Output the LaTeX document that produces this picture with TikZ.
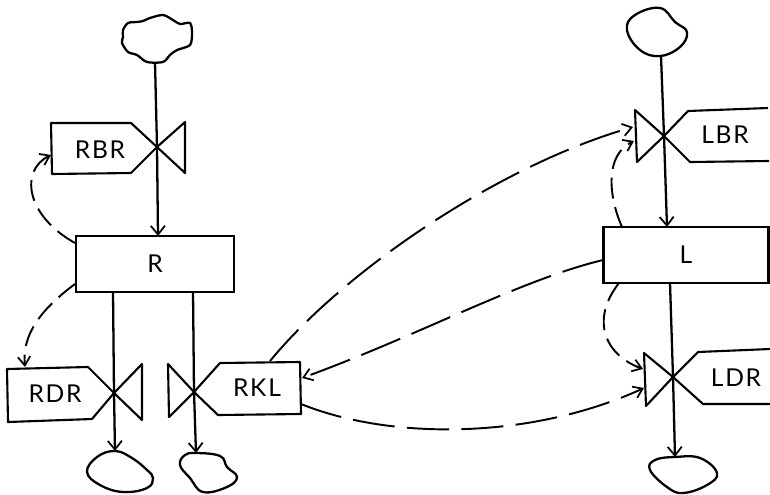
\documentclass[tikz,border=0pt]{standalone}
\usepackage{fontspec}
\newfontfamily\tagfont[LetterSpace=7]{Lato}
\usepackage{tikz}
\usetikzlibrary{arrows.meta}
\tikzset{
    mystock/.style={draw=black,line width=1.3pt,inner sep=0pt},
    mytag/.style={draw=black,line width=1.2pt,line join=round},
    myvalve/.style={draw=black,line width=1.2pt,line join=round},
    mycloud/.style={draw=black,line width=1.3pt},
    myflow/.style={line width=1.3pt,draw=black,-{Straight Barb[length=5pt,width=8pt,line width=1pt]}},
    mylink/.style={line width=1.1pt,draw=black,dash pattern=on 24pt off 7pt,-{Straight Barb[length=5pt,width=7pt,line width=1pt]}},
    myshortlink/.style={mylink,dash pattern=on 12pt off 5pt},
    mylabel/.style={font=\fontsize{14}{16}\tagfont,inner sep=0pt},
}

\begin{document}
\begin{tikzpicture}[x=0.02cm,y=-0.02cm]
  \useasboundingbox (0,0) rectangle (770,494);

  % stocks
  \node[mystock,mylabel,minimum width=3.16cm,minimum height=1.12cm] (R) at (155,264) {R};
  \node[mystock,mylabel,minimum width=3.3cm,minimum height=1.12cm] (L) at (686,255) {L};

  % clouds
  \draw[mycloud] plot[smooth cycle,tension=0.5] coordinates {(123,30) (128,23) (137,22) (143,21) (150,18) (163,15) (173,20) (180,24) (190,23) (192,33) (190,45) (177,50) (170,55) (163,62) (147,62) (137,55) (128,52) (122,43) (123,37)};
  \draw[mycloud] plot[smooth cycle,tension=0.7] coordinates {(660,56) (640,50) (627,30) (635,15) (660,8) (675,22) (687,32) (680,47)};
  \draw[mycloud] plot[smooth cycle,tension=0.7] coordinates {(115,451) (132,458) (147,470) (153,478) (147,488) (123,492) (100,485) (87,472) (97,457)};
  \draw[mycloud] plot[smooth cycle,tension=0.7] coordinates {(196,453) (220,456) (227,467) (237,477) (227,487) (203,492) (190,478) (180,465) (185,455)};
  \draw[mycloud] plot[smooth cycle,tension=0.7] coordinates {(675,457) (700,458) (717,473) (707,485) (683,493) (667,487) (650,470) (655,460)};

  \coordinate (Vrbr) at (157,147);
  \coordinate (Vrdr) at (114,393);
  \coordinate (Vrkl) at (194,392);
  \coordinate (Vlbr) at (664,136);
  \coordinate (Vldr) at (673,377);

  % tags
  \draw[mytag] (51,123)--(131,123)--(Vrbr)--(131,173)--(52,174)--cycle;
  \draw[mytag] (7,369)--(88,367)--(Vrdr)--(92,419)--(8,422)--cycle;
  \draw[mytag] (300,362)--(220,363)--(Vrkl)--(218,415)--(301,414)--cycle;
  \draw[mytag] (768,108)--(688,111)--(Vlbr)--(690,162)--(769,161);
  \draw[mytag] (770,349)--(698,352)--(Vldr)--(703,404)--(770,404);

  % valves
  \draw[myvalve] (Vrbr)--(185,122)--(185,173)--cycle;
  \draw[myvalve] (Vrdr)--(142,364)--(142,420)--cycle;
  \draw[myvalve] (Vrkl)--(168,364)--(169,417)--cycle;
  \draw[myvalve] (Vlbr)--(635,110)--(637,162)--cycle;
  \draw[myvalve] (Vldr)--(644,353)--(646,406)--cycle;

  \node[mylabel] (RBR) at (100,150) {RBR};
  \node[mylabel] (RDR) at (55,394) {RDR};
  \node[mylabel] (RKL) at (257,388) {RKL};
  \node[mylabel] (LBR) at (725,135) {LBR};
  \node[mylabel] (LDR) at (736,378) {LDR};

  % flows
  \coordinate (Ctop1) at (155,62);
  \coordinate (Rin) at (158,236);
  \coordinate (Rout1) at (113,292);
  \coordinate (Cbot1) at (115,451);
  \coordinate (Rout2) at (193,291);
  \coordinate (Cbot2) at (196,453);
  \coordinate (Ctop2) at (661,56);
  \coordinate (Lin) at (667,227);
  \coordinate (Lout) at (670,283);
  \coordinate (Cbot3) at (675,457);

  \draw[myflow] (Ctop1)--(Vrbr)--(Rin);
  \draw[myflow] (Rout1)--(Vrdr)--(Cbot1);
  \draw[myflow] (Rout2)--(Vrkl)--(Cbot2);
  \draw[myflow] (Ctop2)--(Vlbr)--(Lin);
  \draw[myflow] (Lout)--(Vldr)--(Cbot3);

  % dashed links
  \coordinate (Rbr) at (51,155);
  \coordinate (Rdr) at (25,367);
  \coordinate (Rkl1) at (270,361);
  \coordinate (Rkl2) at (302,378);
  \coordinate (Rkl3) at (301,404);
  \coordinate (Lbr1) at (633,127);
  \coordinate (Lbr2) at (634,141);
  \coordinate (Ldr1) at (643,369);
  \coordinate (Ldr2) at (644,388);
  \coordinate (Rtop) at (75,243);
  \coordinate (Rbot) at (75,284);
  \coordinate (Ltop) at (622,227);
  \coordinate (Lbot) at (619,283);
  \coordinate (Lleft) at (603,260);

  \draw[myshortlink] (Rtop) .. controls (25,215) and (20,170) .. (Rbr);
  \draw[myshortlink] (Rbot) .. controls (40,310) and (22,335) .. (Rdr);
  \draw[mylink] (Rkl1) .. controls (345,270) and (500,165) .. (Lbr1);
  \draw[mylink] (Lleft) .. controls (520,280) and (420,335) .. (Rkl2);
  \draw[mylink] (Rkl3) .. controls (390,440) and (530,440) .. (Ldr2);
  \draw[myshortlink] (Ltop) .. controls (608,195) and (605,155) .. (Lbr2);
  \draw[myshortlink] (Lbot) .. controls (590,320) and (605,355) .. (Ldr1);
\end{tikzpicture}
\end{document}
